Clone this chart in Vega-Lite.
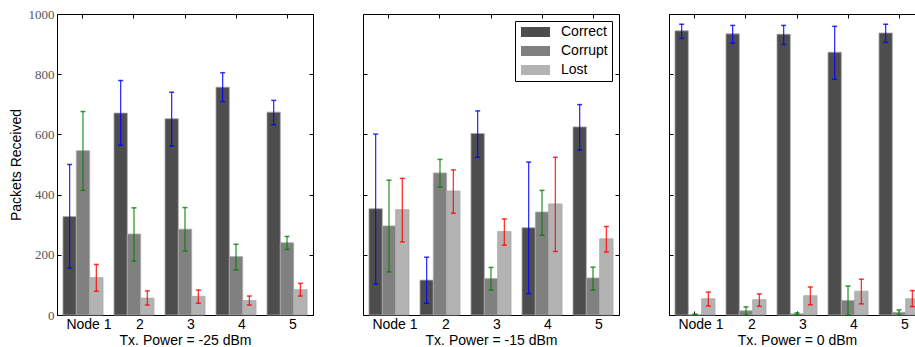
{
  "$schema": "https://vega.github.io/schema/vega-lite/v6.json",
  "padding": {"left": 8, "top": 7, "right": 0, "bottom": 0},
  "background": "white",
  "bounds": "flush",
  "spacing": 50,
  "config": {
    "view": {"stroke": "black", "strokeWidth": 1},
    "axis": {"grid": false, "domain": false, "tickColor": "black", "tickSize": -4, "tickWidth": 1,
      "labelFont": "Liberation Sans", "labelFontSize": 14, "labelColor": "black",
      "titleFont": "Liberation Sans", "titleFontSize": 14, "titleFontWeight": "normal", "titleColor": "black"},
    "axisX": {"labelAngle": 0, "labelPadding": 6, "titlePadding": 2, "bandPosition": 0.5, "tickOffset": 6, "labelOffset": 6},
    "axisY": {"labelFont": "Liberation Serif", "labelFontSize": 13, "labelColor": "#555555", "labelPadding": 7, "titlePadding": 5, "format": "d"}
  },
  "datasets": {
    "d": [
      {"p": "-25", "n": "Node 1", "k": "Correct", "v": 327, "lo": 156, "hi": 500},
      {"p": "-25", "n": "Node 1", "k": "Corrupt", "v": 546, "lo": 414, "hi": 676},
      {"p": "-25", "n": "Node 1", "k": "Lost", "v": 124, "lo": 79, "hi": 168},
      {"p": "-25", "n": "2", "k": "Correct", "v": 671, "lo": 564, "hi": 779},
      {"p": "-25", "n": "2", "k": "Corrupt", "v": 269, "lo": 179, "hi": 356},
      {"p": "-25", "n": "2", "k": "Lost", "v": 56, "lo": 33, "hi": 80},
      {"p": "-25", "n": "3", "k": "Correct", "v": 652, "lo": 561, "hi": 740},
      {"p": "-25", "n": "3", "k": "Corrupt", "v": 285, "lo": 213, "hi": 357},
      {"p": "-25", "n": "3", "k": "Lost", "v": 62, "lo": 39, "hi": 83},
      {"p": "-25", "n": "4", "k": "Correct", "v": 757, "lo": 709, "hi": 805},
      {"p": "-25", "n": "4", "k": "Corrupt", "v": 194, "lo": 150, "hi": 235},
      {"p": "-25", "n": "4", "k": "Lost", "v": 48, "lo": 33, "hi": 63},
      {"p": "-25", "n": "5", "k": "Correct", "v": 674, "lo": 632, "hi": 713},
      {"p": "-25", "n": "5", "k": "Corrupt", "v": 240, "lo": 218, "hi": 261},
      {"p": "-25", "n": "5", "k": "Lost", "v": 84, "lo": 63, "hi": 105},
      {"p": "-15", "n": "Node 1", "k": "Correct", "v": 353, "lo": 103, "hi": 601},
      {"p": "-15", "n": "Node 1", "k": "Corrupt", "v": 296, "lo": 143, "hi": 448},
      {"p": "-15", "n": "Node 1", "k": "Lost", "v": 350, "lo": 243, "hi": 454},
      {"p": "-15", "n": "2", "k": "Correct", "v": 116, "lo": 39, "hi": 192},
      {"p": "-15", "n": "2", "k": "Corrupt", "v": 472, "lo": 425, "hi": 517},
      {"p": "-15", "n": "2", "k": "Lost", "v": 412, "lo": 338, "hi": 482},
      {"p": "-15", "n": "3", "k": "Correct", "v": 603, "lo": 524, "hi": 678},
      {"p": "-15", "n": "3", "k": "Corrupt", "v": 121, "lo": 83, "hi": 158},
      {"p": "-15", "n": "3", "k": "Lost", "v": 277, "lo": 232, "hi": 319},
      {"p": "-15", "n": "4", "k": "Correct", "v": 290, "lo": 71, "hi": 508},
      {"p": "-15", "n": "4", "k": "Corrupt", "v": 342, "lo": 265, "hi": 414},
      {"p": "-15", "n": "4", "k": "Lost", "v": 369, "lo": 211, "hi": 524},
      {"p": "-15", "n": "5", "k": "Correct", "v": 625, "lo": 548, "hi": 699},
      {"p": "-15", "n": "5", "k": "Corrupt", "v": 123, "lo": 83, "hi": 159},
      {"p": "-15", "n": "5", "k": "Lost", "v": 253, "lo": 209, "hi": 294},
      {"p": "0", "n": "Node 1", "k": "Correct", "v": 944, "lo": 919, "hi": 966},
      {"p": "0", "n": "Node 1", "k": "Corrupt", "v": 1, "lo": 0, "hi": 3},
      {"p": "0", "n": "Node 1", "k": "Lost", "v": 54, "lo": 30, "hi": 76},
      {"p": "0", "n": "2", "k": "Correct", "v": 934, "lo": 903, "hi": 962},
      {"p": "0", "n": "2", "k": "Corrupt", "v": 14, "lo": 0, "hi": 27},
      {"p": "0", "n": "2", "k": "Lost", "v": 51, "lo": 29, "hi": 70},
      {"p": "0", "n": "3", "k": "Correct", "v": 933, "lo": 899, "hi": 962},
      {"p": "0", "n": "3", "k": "Corrupt", "v": 4, "lo": 0, "hi": 7},
      {"p": "0", "n": "3", "k": "Lost", "v": 64, "lo": 34, "hi": 93},
      {"p": "0", "n": "4", "k": "Correct", "v": 873, "lo": 783, "hi": 959},
      {"p": "0", "n": "4", "k": "Corrupt", "v": 48, "lo": 0, "hi": 96},
      {"p": "0", "n": "4", "k": "Lost", "v": 79, "lo": 37, "hi": 119},
      {"p": "0", "n": "5", "k": "Correct", "v": 937, "lo": 906, "hi": 966},
      {"p": "0", "n": "5", "k": "Corrupt", "v": 9, "lo": 0, "hi": 17},
      {"p": "0", "n": "5", "k": "Lost", "v": 54, "lo": 28, "hi": 81}
    ]
  },
  "resolve": {"scale": {"fill": "independent", "color": "independent"}},
  "hconcat": [
    {
      "width": 256, "height": 301,
      "data": {"name": "d"},
      "transform": [{"filter": "datum.p == '-25'"}],
      "resolve": {"axis": {"x": "independent", "y": "independent"}},
      "layer": [
        {
          "mark": {"type": "bar", "stroke": "#a8a8a8", "strokeWidth": 0.8},
          "encoding": {
            "x": {"field": "n", "type": "nominal", "sort": null, "scale": {"paddingInner": 0.215, "paddingOuter": 0.117}, "axis": {"title": "Tx. Power = -25 dBm", "orient": "bottom"}},
            "xOffset": {"field": "k", "type": "nominal", "sort": ["Correct", "Corrupt", "Lost"], "scale": {"paddingInner": 0, "paddingOuter": 0}},
            "y": {"field": "v", "type": "quantitative", "scale": {"domain": [0, 1000], "nice": false}, "axis": {"title": "Packets Received", "orient": "left", "values": [0, 200, 400, 600, 800, 1000]}},
            "fill": {"field": "k", "type": "nominal", "sort": ["Correct", "Corrupt", "Lost"], "scale": {"domain": ["Correct", "Corrupt", "Lost"], "range": ["#4d4d4d", "#808080", "#b3b3b3"]}, "legend": null}
          }
        },
        {
          "mark": {"type": "rule", "strokeWidth": 1.3, "opacity": 0.8},
          "encoding": {
            "x": {"field": "n", "type": "nominal", "sort": null, "axis": {"orient": "top", "labels": false, "title": null}},
            "xOffset": {"field": "k", "type": "nominal", "sort": ["Correct", "Corrupt", "Lost"]},
            "y": {"field": "lo", "type": "quantitative", "axis": {"orient": "right", "labels": false, "title": null, "values": [0, 200, 400, 600, 800, 1000]}},
            "y2": {"field": "hi"},
            "color": {"field": "k", "type": "nominal", "scale": {"domain": ["Correct", "Corrupt", "Lost"], "range": ["#0000ff", "#008000", "#ff0000"]}, "legend": null}
          }
        },
        {
          "mark": {"type": "tick", "size": 5, "thickness": 1.5, "opacity": 0.8},
          "encoding": {
            "x": {"field": "n", "type": "nominal", "sort": null, "axis": null},
            "xOffset": {"field": "k", "type": "nominal", "sort": ["Correct", "Corrupt", "Lost"]},
            "y": {"field": "lo", "type": "quantitative", "axis": null},
            "color": {"field": "k", "type": "nominal", "legend": null}
          }
        },
        {
          "mark": {"type": "tick", "size": 5, "thickness": 1.5, "opacity": 0.8},
          "encoding": {
            "x": {"field": "n", "type": "nominal", "sort": null, "axis": null},
            "xOffset": {"field": "k", "type": "nominal", "sort": ["Correct", "Corrupt", "Lost"]},
            "y": {"field": "hi", "type": "quantitative", "axis": null},
            "color": {"field": "k", "type": "nominal", "legend": null}
          }
        }
      ]
    },
    {
      "width": 256, "height": 301,
      "data": {"name": "d"},
      "transform": [{"filter": "datum.p == '-15'"}],
      "resolve": {"axis": {"x": "independent", "y": "independent"}},
      "layer": [
        {
          "mark": {"type": "bar", "stroke": "#a8a8a8", "strokeWidth": 0.8},
          "encoding": {
            "x": {"field": "n", "type": "nominal", "sort": null, "scale": {"paddingInner": 0.215, "paddingOuter": 0.117}, "axis": {"title": "Tx. Power = -15 dBm", "orient": "bottom"}},
            "xOffset": {"field": "k", "type": "nominal", "sort": ["Correct", "Corrupt", "Lost"], "scale": {"paddingInner": 0, "paddingOuter": 0}},
            "y": {"field": "v", "type": "quantitative", "scale": {"domain": [0, 1000], "nice": false}, "axis": {"title": null, "labels": false, "orient": "left", "values": [0, 200, 400, 600, 800, 1000]}},
            "fill": {"field": "k", "type": "nominal", "sort": ["Correct", "Corrupt", "Lost"], "scale": {"domain": ["Correct", "Corrupt", "Lost"], "range": ["#4d4d4d", "#808080", "#b3b3b3"]},
              "legend": {"title": null, "orient": "top-right", "offset": 7, "strokeColor": "black", "fillColor": "white", "padding": 4,
                "symbolType": "M-1,-1H4.8V1H-1Z", "symbolSize": 100, "symbolStrokeWidth": 0, "symbolOpacity": 1,
                "labelFont": "Liberation Sans", "labelFontSize": 14, "labelColor": "black", "labelOffset": 28, "rowPadding": 5, "labelLimit": 0}}
          }
        },
        {
          "mark": {"type": "rule", "strokeWidth": 1.3, "opacity": 0.8},
          "encoding": {
            "x": {"field": "n", "type": "nominal", "sort": null, "axis": {"orient": "top", "labels": false, "title": null}},
            "xOffset": {"field": "k", "type": "nominal", "sort": ["Correct", "Corrupt", "Lost"]},
            "y": {"field": "lo", "type": "quantitative", "axis": {"orient": "right", "labels": false, "title": null, "values": [0, 200, 400, 600, 800, 1000]}},
            "y2": {"field": "hi"},
            "color": {"field": "k", "type": "nominal", "scale": {"domain": ["Correct", "Corrupt", "Lost"], "range": ["#0000ff", "#008000", "#ff0000"]}, "legend": null}
          }
        },
        {
          "mark": {"type": "tick", "size": 5, "thickness": 1.5, "opacity": 0.8},
          "encoding": {
            "x": {"field": "n", "type": "nominal", "sort": null, "axis": null},
            "xOffset": {"field": "k", "type": "nominal", "sort": ["Correct", "Corrupt", "Lost"]},
            "y": {"field": "lo", "type": "quantitative", "axis": null},
            "color": {"field": "k", "type": "nominal", "legend": null}
          }
        },
        {
          "mark": {"type": "tick", "size": 5, "thickness": 1.5, "opacity": 0.8},
          "encoding": {
            "x": {"field": "n", "type": "nominal", "sort": null, "axis": null},
            "xOffset": {"field": "k", "type": "nominal", "sort": ["Correct", "Corrupt", "Lost"]},
            "y": {"field": "hi", "type": "quantitative", "axis": null},
            "color": {"field": "k", "type": "nominal", "legend": null}
          }
        }
      ]
    },
    {
      "width": 256, "height": 301,
      "data": {"name": "d"},
      "transform": [{"filter": "datum.p == '0'"}],
      "resolve": {"axis": {"x": "independent", "y": "independent"}},
      "layer": [
        {
          "mark": {"type": "bar", "stroke": "#a8a8a8", "strokeWidth": 0.8},
          "encoding": {
            "x": {"field": "n", "type": "nominal", "sort": null, "scale": {"paddingInner": 0.215, "paddingOuter": 0.117}, "axis": {"title": "Tx. Power = 0 dBm", "orient": "bottom"}},
            "xOffset": {"field": "k", "type": "nominal", "sort": ["Correct", "Corrupt", "Lost"], "scale": {"paddingInner": 0, "paddingOuter": 0}},
            "y": {"field": "v", "type": "quantitative", "scale": {"domain": [0, 1000], "nice": false}, "axis": {"title": null, "labels": false, "orient": "left", "values": [0, 200, 400, 600, 800, 1000]}},
            "fill": {"field": "k", "type": "nominal", "sort": ["Correct", "Corrupt", "Lost"], "scale": {"domain": ["Correct", "Corrupt", "Lost"], "range": ["#4d4d4d", "#808080", "#b3b3b3"]}, "legend": null}
          }
        },
        {
          "mark": {"type": "rule", "strokeWidth": 1.3, "opacity": 0.8},
          "encoding": {
            "x": {"field": "n", "type": "nominal", "sort": null, "axis": {"orient": "top", "labels": false, "title": null}},
            "xOffset": {"field": "k", "type": "nominal", "sort": ["Correct", "Corrupt", "Lost"]},
            "y": {"field": "lo", "type": "quantitative", "axis": {"orient": "right", "labels": false, "title": null, "values": [0, 200, 400, 600, 800, 1000]}},
            "y2": {"field": "hi"},
            "color": {"field": "k", "type": "nominal", "scale": {"domain": ["Correct", "Corrupt", "Lost"], "range": ["#0000ff", "#008000", "#ff0000"]}, "legend": null}
          }
        },
        {
          "mark": {"type": "tick", "size": 5, "thickness": 1.5, "opacity": 0.8},
          "encoding": {
            "x": {"field": "n", "type": "nominal", "sort": null, "axis": null},
            "xOffset": {"field": "k", "type": "nominal", "sort": ["Correct", "Corrupt", "Lost"]},
            "y": {"field": "lo", "type": "quantitative", "axis": null},
            "color": {"field": "k", "type": "nominal", "legend": null}
          }
        },
        {
          "mark": {"type": "tick", "size": 5, "thickness": 1.5, "opacity": 0.8},
          "encoding": {
            "x": {"field": "n", "type": "nominal", "sort": null, "axis": null},
            "xOffset": {"field": "k", "type": "nominal", "sort": ["Correct", "Corrupt", "Lost"]},
            "y": {"field": "hi", "type": "quantitative", "axis": null},
            "color": {"field": "k", "type": "nominal", "legend": null}
          }
        }
      ]
    }
  ]
}
